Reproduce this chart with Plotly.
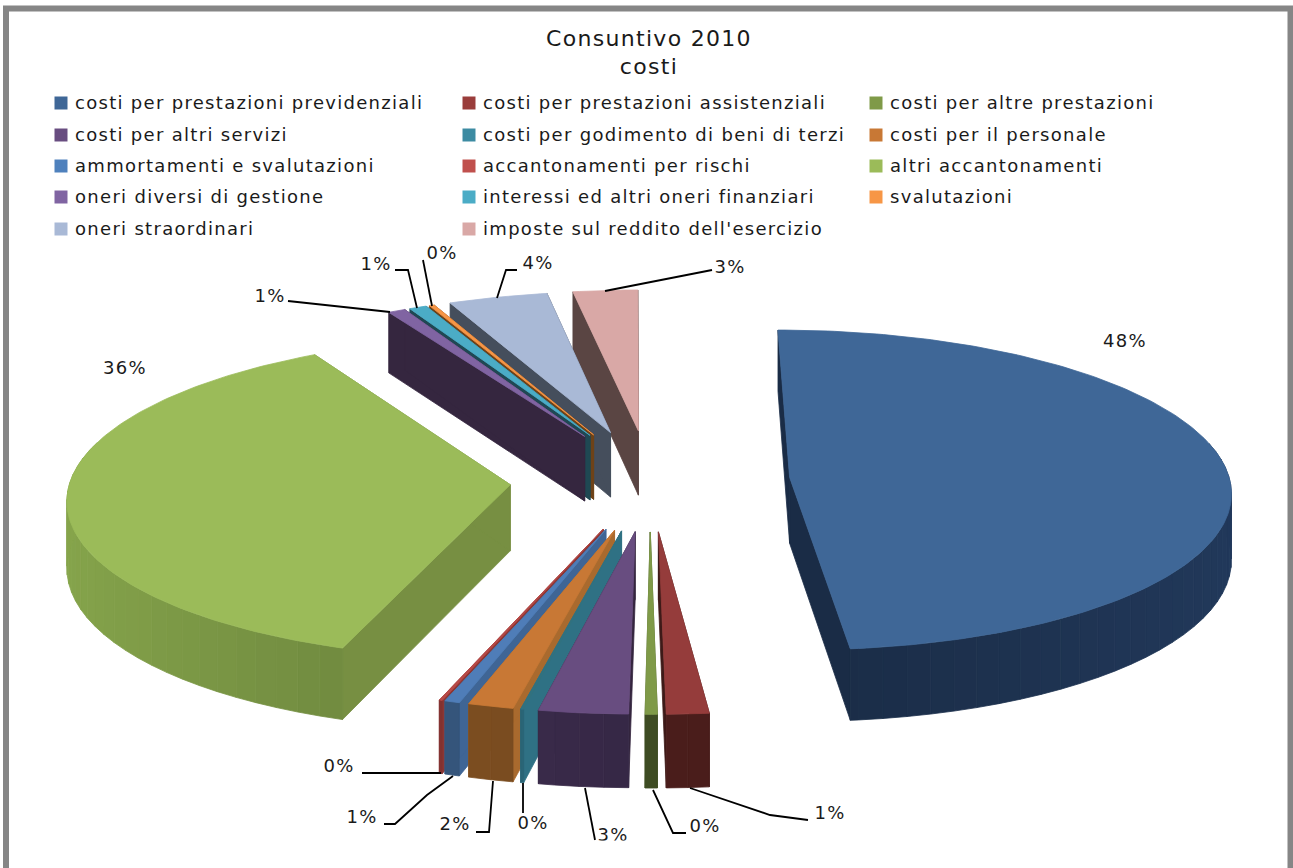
import math
import plotly.graph_objects as go

TITLE = ["Consuntivo 2010", "costi"]
categories = ["costi per prestazioni previdenziali", "costi per prestazioni assistenziali", "costi per altre prestazioni",
              "costi per altri servizi", "costi per godimento di beni di terzi", "costi per il personale",
              "ammortamenti e svalutazioni", "accantonamenti per rischi", "altri accantonamenti",
              "oneri diversi di gestione", "interessi ed altri oneri finanziari", "svalutazioni",
              "oneri straordinari", "imposte sul reddito dell'esercizio"]
values = [48.4, 1.4, 0.4, 2.95, 0.1, 1.5, 0.5, 0.1, 36.4, 0.7, 0.7, 0.2, 4.0, 2.6]
pct_labels = ["48%", "1%", "0%", "3%", "0%", "2%", "1%", "0%", "36%", "1%", "1%", "0%", "4%", "3%"]
top_colors = ["#3f6797", "#953c3b", "#7f9a48", "#684d80", "#31717f", "#c87835", "#4f7db8", "#b84a48",
              "#9bbb59", "#8064a2", "#4bacc6", "#f79646", "#a9b9d6", "#d9a8a6"]
legend_colors = ["#3f6797", "#9a3d3b", "#7f9a48", "#684d80", "#3c8ba2", "#c87835", "#4f81bd", "#c0504d",
                 "#9bbb59", "#8064a2", "#4bacc6", "#f79646", "#a9b9d6", "#d9a8a6"]
wall_colors = ["#1f3453", "#562220", "#4a5a2a", "#402f52", "#2f7184", "#875524", "#3a5c85", "#8c3634",
               "#7a9645", "#35263f", "#1f4853", "#6e4218", "#454e5c", "#5a4543"]
cut_colors = ["#1a2c46", "#3e1a18", "#4a5a2a", "#35263f", "#2f7184", "#a96a2e", "#3f6595", "#8c3634",
              "#778f42", "#35263f", "#1f4853", "#6e4218", "#454e5c", "#5a4543"]

# projection
CX, CY, R, E, DEPTH, TILT, PERSP, START = 650, 480, 440, 140, 66, 0.362, 5570, -0.2
FRAME = "#868686"
TEXT = "#1a1a1a"
FONT = "DejaVu Sans"
LEGEND_X = [54, 462, 869]
LEGEND_Y = [103, 135, 166, 197, 229]
LEGEND_TX = 21
# label centre, then leader route from label side to slice side (last point is on the slice)
LABEL_POS = {0: (1125, 342), 1: (830, 814), 2: (705, 827), 3: (613, 836), 4: (533, 824), 5: (455, 825), 6: (362, 818),
             7: (339, 767), 8: (125, 369), 9: (270, 297), 10: (376, 265), 11: (442, 254), 12: (538, 264), 13: (730, 268)}
LEADERS = {1: [(808, 820), (770, 815), (690, 788)], 2: [(686, 833), (673, 833), (653, 790)], 3: [(595, 840), (585, 788)],
           4: [(523, 813), (523, 783)], 5: [(476, 832), (489, 832), (493, 781)],
           6: [(384, 824), (395, 824), (427, 795), (453, 776)], 7: [(362, 773), (441, 773)],
           9: [(288, 301), (360, 309), (390, 312)], 10: [(395, 270), (408, 270), (417, 308)],
           11: [(423, 260), (432, 306)], 12: [(517, 270), (506, 270), (497, 298)],
           13: [(712, 270), (660, 280), (605, 291)]}


def proj(x, y, z=0.0):
    s = 1.0 / (1.0 + y / PERSP)
    return CX + x * s, CY - y * TILT * s + z * s


def shade(color, f):
    r, g, b = int(color[1:3], 16), int(color[3:5], 16), int(color[5:7], 16)
    return "rgb(%d,%d,%d)" % (min(255, r * f), min(255, g * f), min(255, b * f))


def poly(points, color):
    xs = [p[0] for p in points] + [points[0][0]]
    ys = [p[1] for p in points] + [points[0][1]]
    return go.Scatter(x=xs, y=ys, mode="lines", fill="toself", fillcolor=color,
                      line=dict(color=color, width=0.8), hoverinfo="skip", showlegend=False)


fig = go.Figure()
total = sum(values)
slices = []
a = START
for i, v in enumerate(values):
    b = a + 360.0 * v / total
    slices.append((i, a, b))
    a = b


def geom(a, b):
    mid = math.radians((a + b) / 2)
    ax, ay = E * math.sin(mid), E * math.cos(mid)
    return ax, ay, mid


def depth_key(s):
    _, a, b = s
    ax, ay, mid = geom(a, b)
    return -(ay + 0.5 * R * math.cos(mid))


for i, a, b in sorted(slices, key=depth_key):
    ax, ay, mid = geom(a, b)
    n = max(2, int(b - a) + 1)
    angles = [a + (b - a) * k / n for k in range(n + 1)]
    rim = [(ax + R * math.sin(math.radians(t)), ay + R * math.cos(math.radians(t))) for t in angles]
    # cut faces
    for end in (rim[0], rim[-1]):
        fig.add_trace(poly([proj(ax, ay), proj(*end), proj(*end, DEPTH), proj(ax, ay, DEPTH)], cut_colors[i]))
    # outer wall, in strips
    step = 3
    for k in range(0, n, step):
        seg = rim[k:k + step + 1]
        th = math.radians(angles[min(k + step // 2, n)])
        if math.cos(th) > 0.25:
            continue
        f = 0.85 + 0.25 * abs(math.sin(th))
        pts = [proj(*p) for p in seg] + [proj(*p, DEPTH) for p in reversed(seg)]
        fig.add_trace(poly(pts, shade(wall_colors[i], f)))
    # top face
    fig.add_trace(poly([proj(ax, ay)] + [proj(*p) for p in rim], top_colors[i]))

# leader lines and percent labels
for i, route in LEADERS.items():
    fig.add_trace(go.Scatter(x=[p[0] for p in route], y=[p[1] for p in route], mode="lines",
                             line=dict(color="#000000", width=1.8), hoverinfo="skip", showlegend=False))
fig.add_trace(go.Scatter(x=[LABEL_POS[i][0] for i in range(len(values))], y=[LABEL_POS[i][1] for i in range(len(values))],
                         mode="text", text=pct_labels, textposition="middle center",
                         textfont=dict(family=FONT, size=18, color=TEXT), hoverinfo="skip", showlegend=False))
# the lower edge of the chart area cuts off the lowest label
fig.add_trace(poly([(560, 841), (660, 841), (660, 868), (560, 868)], "#ffffff"))

# legend
for i, name in enumerate(categories):
    x, y = LEGEND_X[i % 3], LEGEND_Y[i // 3]
    fig.add_trace(go.Scatter(x=[x + 7], y=[y], mode="markers",
                             marker=dict(symbol="square", size=13, color=legend_colors[i], line=dict(width=0)),
                             hoverinfo="skip", showlegend=False))
    fig.add_trace(go.Scatter(x=[x + LEGEND_TX], y=[y + 1], mode="text", text=[name], textposition="middle right",
                             textfont=dict(family=FONT, size=18, color=TEXT), hoverinfo="skip", showlegend=False))

fig.add_trace(go.Scatter(x=[649, 649], y=[40, 68], mode="text", text=TITLE, textposition="middle center",
                         textfont=dict(family=FONT, size=22, color=TEXT), hoverinfo="skip", showlegend=False))

fig.update_layout(
    width=1293, height=868, autosize=False, margin=dict(l=0, r=0, t=0, b=0),
    paper_bgcolor="#ffffff", plot_bgcolor="#ffffff", showlegend=False,
    xaxis=dict(range=[0, 1293], visible=False, fixedrange=True),
    yaxis=dict(range=[868, 0], visible=False, fixedrange=True),
    shapes=[dict(type="rect", xref="x", yref="y", x0=6, y0=8.5, x1=1290.5, y1=920,
                 line=dict(color=FRAME, width=6), fillcolor="#ffffff", layer="below")],
)
fig.write_html("out.html", config={"displayModeBar": False},
               post_script="document.body.style.margin='0';document.body.style.overflow='hidden';"
                           "var s=document.createElement('style');s.textContent='.textpoint text{letter-spacing:1.3px}';"
                           "document.head.appendChild(s);")
